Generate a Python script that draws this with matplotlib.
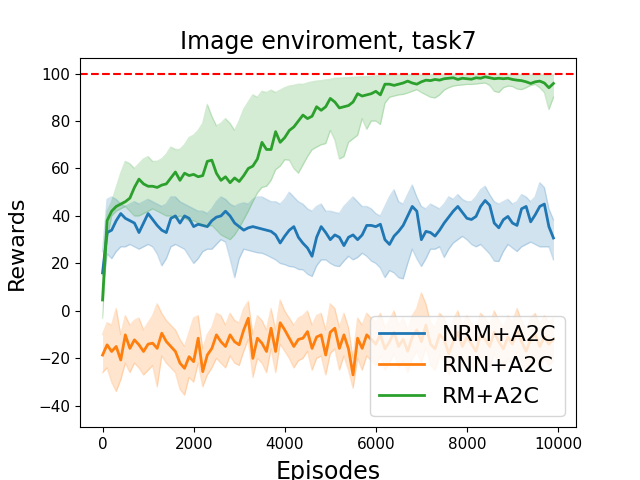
import numpy as np
import matplotlib
matplotlib.use("Agg")
import matplotlib.pyplot as plt

episodes = list(range(0, 10000, 100))

rm_mean = [4.6, 38, 42, 44, 45, 46, 47.5, 52, 55.5, 53.5,
           52.5, 52.5, 52, 53, 53.5, 56, 58.5, 55, 58, 57,
           57.5, 56.5, 57, 63, 63.5, 58, 55, 56.5, 54, 56,
           54.5, 57, 60, 61, 64, 71, 68, 68, 75.5, 71,
           73, 76, 77.5, 80, 82.5, 81, 82, 86, 84.5, 86,
           89.5, 88, 85.5, 86, 86.5, 88, 91.5, 90.5, 91, 91.5,
           92.5, 91, 95.5, 95.5, 95, 95.5, 96, 96.8, 96, 95.5,
           96.5, 97.2, 97, 97.5, 97.2, 97.8, 98, 98.2, 97.5, 98,
           97.8, 97.6, 98.2, 98, 98.6, 98.2, 97.8, 98, 97.8, 98,
           97.5, 97.2, 97, 96.5, 95.8, 96.5, 96.8, 96, 94, 95.8]
rm_upper = [15, 42, 46, 52, 58, 63, 62, 60, 62, 64,
            65, 63, 63, 64, 66, 69, 68, 68, 70, 73,
            74, 76, 79, 87, 82, 78, 79, 81, 79, 76,
            80, 85, 88, 91, 90, 92.5, 92, 93, 92, 93,
            94, 94.7, 95, 95.5, 95.4, 96, 96.5, 96.8, 97, 97.3,
            97.5, 98, 98, 98.2, 98.3, 98.4, 98.5, 98.6, 98.7, 98.8,
            99, 99.2, 99.5, 99.5, 99.4, 99.5, 99.5, 99.6, 99.5, 99.5,
            99.4, 99.5, 99.6, 99.5, 99.5, 99.6, 99.5, 99.6, 99.5, 99.5,
            99.6, 99.5, 99.6, 99.5, 99.6, 99.5, 99.5, 99.6, 99.5, 99.5,
            99.4, 99.5, 99.5, 99.4, 99.3, 99.4, 99.5, 99.4, 99.2, 99.4]
rm_lower = [-3, 30, 40, 42, 43, 44, 42, 40, 40, 41,
            42, 43, 42, 41, 40, 40, 39, 40, 39, 38,
            38, 37, 36, 35.5, 36, 34, 32, 31, 30, 32,
            35, 38.4, 42, 46, 49.7, 52, 52.5, 55, 59.5, 61,
            63.7, 63.5, 60, 58, 61.5, 65, 67.9, 69, 70, 70.5,
            76, 72, 64, 65, 71, 72.5, 74, 81, 76.5, 80,
            80, 78.5, 87.5, 90, 90.5, 91, 91.2, 91.8, 92.5, 93.2,
            92, 91, 90, 89.7, 91, 93, 94, 94.7, 95, 95.2,
            95.4, 95.4, 95.6, 95.8, 96, 95, 92.5, 92, 94, 94.7,
            94.5, 93.5, 93.2, 94, 95, 95.4, 94, 92, 84.8, 90]

nrm_mean = [16, 33, 34, 38, 41, 39, 38, 37, 33, 37,
            41, 38.5, 36, 34, 33, 39, 40, 37, 40, 39,
            35.5, 36.5, 36, 35.5, 38, 39.5, 40, 42, 40, 37,
            35.5, 34, 35, 35.5, 35, 34.5, 34, 33.5, 32, 28.6,
            31.5, 34, 35.5, 31, 28.5, 26.5, 23, 31, 35.5, 33,
            30, 32, 31, 27.5, 31, 32, 30, 32, 36, 36,
            35.5, 36.5, 30, 28, 31.5, 33.5, 36, 40, 44, 42,
            30, 33.5, 33, 31.5, 34, 37, 39.5, 42, 44, 41.5,
            39, 38.5, 39.8, 44, 46.5, 44.5, 37, 35, 38.4, 39.8,
            37, 36, 43, 44, 37.5, 40.5, 44, 45, 35.5, 30.7]
nrm_upper = [25, 47, 48, 47, 45, 44, 45, 46, 45, 46,
             47, 46, 45, 44, 45, 48, 48, 46, 45, 44,
             43, 42, 42, 41, 43, 46, 48, 47, 45, 44,
             45, 45.5, 45, 47, 48, 48, 47, 46, 46, 45,
             47, 50, 48, 46, 45, 43, 42, 44, 45, 42,
             42, 41.5, 41, 44, 46, 48, 46, 44, 44, 43,
             41, 40, 44, 48, 51, 46, 45, 49, 53, 48,
             44, 43, 45, 44, 43, 45, 48, 47, 49, 47,
             46, 46, 48, 51, 52.5, 49, 46, 45, 46, 47,
             45, 46, 49, 48, 46, 48, 54, 52, 43, 38.4]
nrm_lower = [8, 24, 22, 25, 27, 27, 28, 27, 26, 27,
             28, 27, 24, 19, 22, 27, 28, 27, 26, 23,
             20, 22, 25, 26, 26, 28, 30, 29, 22, 14,
             22, 26, 25.5, 25, 24.5, 24.3, 23.5, 22.5, 21.5, 20,
             19.5, 18.7, 18.5, 17.5, 17.3, 15.5, 14.5, 19, 21.5, 21.5,
             20, 19, 18.7, 21, 23, 21.5, 22.5, 24.3, 23, 21,
             20, 18, 14, 17, 16, 14, 13.5, 20, 26, 22,
             18.7, 22, 26, 26, 27, 22.5, 26, 28.6, 30, 31.4,
             30, 28, 27, 28, 26, 24, 21, 20.8, 25, 28,
             26.5, 25, 27, 28, 29, 28, 27, 27, 27, 21.5]

rnn_mean = [-18.6, -14.3, -17.1, -15, -20.7, -10.1, -15.8, -12.2, -14.3, -17.1,
            -14, -13.6, -15.8, -9.4, -12.9, -15, -17.1, -22, -24.2, -19.3,
            -21.4, -11.5, -25.6, -18.6, -15.8, -10.1, -13, -15, -10.1, -13,
            -14.3, -8, -3.1, -20, -11.5, -13.6, -17.1, -7.3, -17.1, -5,
            -8, -11.5, -15, -12, -11.5, -8.7, -15.8, -11, -10.1, -18.6,
            -9, -7.3, -15.8, -10.1, -16, -27, -11.5, -15.8, -10.1, -12,
            -14, -10, -16, -13, -9, -15, -12, -17, -11, -8,
            -13, -6, -14, -16, -10, -12, -18, -13, -9, -15,
            -11, -14, -17, -10, -12, -15, -9, -13, -16, -11,
            -14, -8, -13, -17, -12, -10, -15, -11, -14, -12]
rnn_upper = [-10, -5, -6, 1, -10, -2, -6, -4, -3, -8,
             -5, -2, 3, -1, -4, -6, -8, -12, -15, -9,
             -3, -2, -16, -10, -7, -1, -2, -6, -1, -4,
             -5, 1, 4, -10, -2, -4, -8, 1, -8, 4.6,
             0, -3, -6, -3, -2, 0, -6, -2, -1, -8,
             3, 1, -7, -1, -7, -20, -3, -6, -1, -3,
             -5, -1, -7, -4, 0, -6, -3, -8, -2, 1,
             7.6, 3, -5, -7, -1, -3, -9, -4, 0, -6,
             -2, -5, -8, -1, -3, -6, 0, -4, -7, -2,
             -5, 1, -4, -8, -3, -1, -6, -2, -5, -3]
rnn_lower = [-26, -24, -30, -34, -29, -22, -26, -22, -24, -27,
             -25, -23, -32, -19, -22, -24, -26, -33, -35.5, -28,
             -30, -22, -32, -27, -24, -20, -22, -24, -19, -22,
             -23, -17, -12, -28, -20, -22, -26, -16, -26, -14,
             -17, -20, -24, -21, -20, -17, -25, -20, -19, -27,
             -18, -16, -25, -19, -25, -32.6, -20, -25, -19, -21,
             -23, -19, -25, -22, -18, -24, -21, -26, -20, -17,
             -22, -15, -23, -25, -19, -21, -27, -22, -18, -24,
             -20, -23, -26, -19, -21, -24, -18, -22, -25, -20,
             -23, -17, -22, -26, -21, -19, -24, -20, -23, -21]

series = [
    ("NRM+A2C", "tab:blue", nrm_mean, nrm_lower, nrm_upper),
    ("RNN+A2C", "tab:orange", rnn_mean, rnn_lower, rnn_upper),
    ("RM+A2C", "tab:green", rm_mean, rm_lower, rm_upper),
]

fig, ax = plt.subplots(figsize=(6.4, 4.8), dpi=100)
for label, color, mean, lo, hi in series:
    ax.fill_between(episodes, lo, hi, color=color, alpha=0.2, linewidth=0)
    ax.plot(episodes, lo, color=color, alpha=0.2, linewidth=1)
    ax.plot(episodes, hi, color=color, alpha=0.2, linewidth=1)
    ax.plot(episodes, mean, color=color, linewidth=2, label=label)

ax.axhline(100, color="red", linestyle="--", linewidth=1.5)
ax.set_ylim(-49, 106.7)
ax.set_title("Image enviroment, task7", fontsize=17)
ax.set_xlabel("Episodes", fontsize=17, labelpad=6)
ax.set_ylabel("Rewards", fontsize=16, labelpad=8)
ax.tick_params(labelsize=11)
ax.legend(loc="lower right", fontsize=16)
fig.savefig("out.png", dpi=100)
